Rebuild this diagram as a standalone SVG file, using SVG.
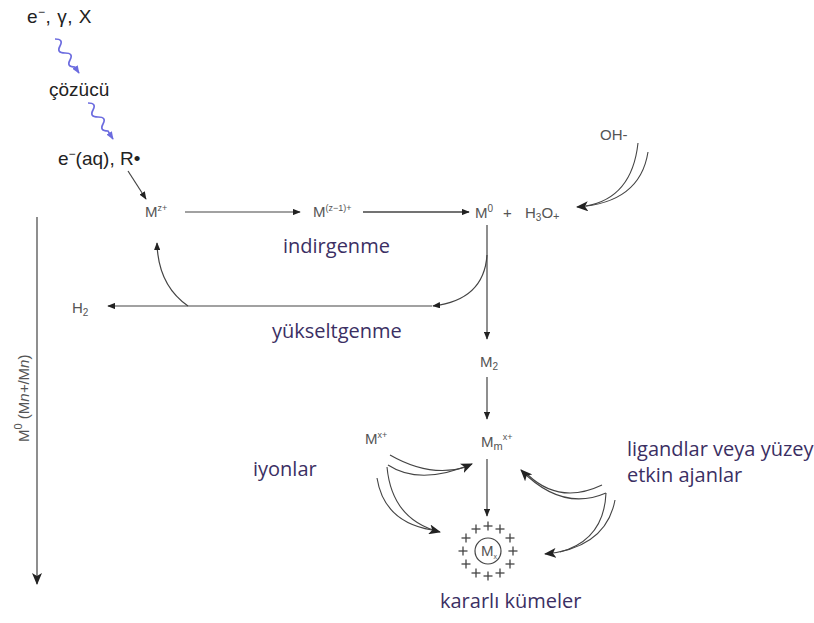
<svg xmlns="http://www.w3.org/2000/svg" width="814" height="623" viewBox="0 0 814 623">
<defs>
<style>
.lbl{font-family:"Liberation Sans",Arial,sans-serif;fill:#555;font-size:15px}
.blk{font-family:"Liberation Sans",Arial,sans-serif;fill:#222;font-size:19px}
.tr{font-family:"Open Sans",sans-serif;fill:#3b2f63;font-size:20px}
.ln{stroke:#444;stroke-width:1.2;fill:none}
.dl{stroke:#444;stroke-width:1.1;fill:none}
.wv{stroke:#6b6bdf;stroke-width:1.6;fill:none}
.pl{stroke:#444;stroke-width:1.3}
</style>
<marker id="ah" viewBox="0 0 10 8" refX="9" refY="4" markerWidth="8" markerHeight="6.4" markerUnits="userSpaceOnUse" orient="auto">
<path d="M0,0 L10,4 L0,8 z" fill="#222"/>
</marker>
<marker id="ab" viewBox="0 0 12 10" refX="11" refY="5" markerWidth="12" markerHeight="10" markerUnits="userSpaceOnUse" orient="auto">
<path d="M0,0 L12,5 L0,10 L3,5 z" fill="#222"/>
</marker>
<marker id="aw" viewBox="0 0 10 8" refX="9" refY="4" markerWidth="8" markerHeight="6.4" markerUnits="userSpaceOnUse" orient="auto">
<path d="M0,0 L10,4 L0,8 z" fill="#6b6bdf"/>
</marker>
<g id="plus"><line class="pl" x1="-4.5" y1="0" x2="4.5" y2="0"/><line class="pl" x1="0" y1="-4.5" x2="0" y2="4.5"/></g>
</defs>
<rect width="814" height="623" fill="#fff"/>

<g id="connectors">
<path class="wv" d="M55,39 q9,0 5,7 t5,7 t5,7 t5,7 L79,73" marker-end="url(#aw)"/>
<path class="wv" d="M88,103 q9,0 5,7 t5,7 t5,7 t5,7 L113,139" marker-end="url(#aw)"/>
<line class="ln" x1="128" y1="171" x2="146" y2="199" marker-end="url(#ah)"/>
<line class="ln" x1="185" y1="212" x2="300" y2="212" marker-end="url(#ah)"/>
<line class="ln" style="stroke-width:1.6" x1="363" y1="212" x2="469" y2="212" marker-end="url(#ah)"/>
<path class="dl" d="M638,143 Q632,198 586,206"/>
<path class="dl" d="M648,152 Q640,203 577,207" marker-end="url(#ab)"/>
<line class="ln" x1="487" y1="225" x2="487" y2="339" marker-end="url(#ah)"/>
<path class="ln" d="M487,255 Q484,300 433,306" marker-end="url(#ah)"/>
<line class="ln" x1="432" y1="306" x2="108" y2="306" marker-end="url(#ah)"/>
<path class="ln" d="M188,306 Q158,285 157,243" marker-end="url(#ah)"/>
<line class="ln" x1="487" y1="377" x2="487" y2="419" marker-end="url(#ah)"/>
<line class="ln" x1="487" y1="459" x2="487" y2="516" marker-end="url(#ah)"/>
<path class="dl" d="M390,455 Q430,478 466,467"/>
<path class="dl" d="M388,465 Q420,486 472,464" marker-end="url(#ab)"/>
<path class="dl" d="M377,478 Q384,522 432,530"/>
<path class="dl" d="M387,467 Q392,520 440,532" marker-end="url(#ab)"/>
<path class="dl" d="M602,485 Q560,505 528,475"/>
<path class="dl" d="M606,493 Q562,512 521,470" marker-end="url(#ab)"/>
<path class="dl" d="M606,493 Q604,540 560,552"/>
<path class="dl" d="M615,500 Q606,548 545,554" marker-end="url(#ab)"/>
<line class="ln" x1="37" y1="217" x2="37" y2="584" marker-end="url(#ab)"/>
</g>

<g id="n-source"><text class="blk" x="27" y="23" letter-spacing="0.5">e<tspan font-size="12" dy="-7">−</tspan><tspan dy="7">, γ, X</tspan></text></g>
<g id="n-solvent"><text class="blk" x="49" y="96" font-size="18">çözücü</text></g>
<g id="n-eaq"><text class="blk" x="58" y="165">e<tspan font-size="12" dy="-7">−</tspan><tspan dy="7">(aq), R•</tspan></text></g>
<g id="n-Mz"><text class="lbl" x="145" y="217">M<tspan font-size="9" dy="-6">z+</tspan></text></g>
<g id="n-Mz1"><text class="lbl" x="313" y="217">M<tspan font-size="9" dy="-6">(z−1)+</tspan></text></g>
<g id="n-M0">
<text class="lbl" x="475" y="218">M<tspan font-size="10" dy="-6">0</tspan></text>
<text class="lbl" x="503" y="218">+</text>
<text class="lbl" x="525" y="218">H<tspan font-size="10" dy="3">3</tspan><tspan dy="-3">O</tspan><tspan font-size="11" dy="2">+</tspan></text>
</g>
<g id="n-OH"><text class="lbl" x="600" y="140">OH-</text></g>
<g id="n-H2"><text class="lbl" x="72" y="313" font-size="16">H<tspan font-size="10" dy="3">2</tspan></text></g>
<g id="n-M2"><text class="lbl" x="480" y="367" font-size="16">M<tspan font-size="10" dy="3">2</tspan></text></g>
<g id="n-Mx"><text class="lbl" x="365" y="444">M<tspan font-size="9" dy="-6">x+</tspan></text></g>
<g id="n-Mm"><text class="lbl" x="481" y="447">M<tspan font-size="11" dy="3">m</tspan><tspan font-size="9" dy="-10">x+</tspan></text></g>
<g id="n-cluster">
<circle cx="488" cy="551" r="13" fill="none" stroke="#444" stroke-width="1.2"/>
<text class="lbl" x="481" y="556" font-size="13" fill="#333">M<tspan font-size="7" dy="3">x</tspan></text>
<use href="#plus" x="488" y="526"/><use href="#plus" x="500" y="529"/><use href="#plus" x="510" y="538"/>
<use href="#plus" x="513" y="551"/><use href="#plus" x="510" y="564"/><use href="#plus" x="500" y="573"/>
<use href="#plus" x="488" y="576"/><use href="#plus" x="476" y="573"/><use href="#plus" x="466" y="564"/>
<use href="#plus" x="463" y="551"/><use href="#plus" x="466" y="538"/><use href="#plus" x="476" y="529"/>
</g>
<g id="n-axis"><text class="lbl" font-size="18" transform="translate(29,442) rotate(-90)">M<tspan font-size="11" dy="-7">0</tspan><tspan dy="7"> (M</tspan><tspan font-style="italic">n+</tspan>/M<tspan font-style="italic">n</tspan>)</text></g>
<g id="l-indirgenme"><text class="tr" x="283" y="253" font-size="19">indirgenme</text></g>
<g id="l-yukseltgenme"><text class="tr" x="272" y="338">yükseltgenme</text></g>
<g id="l-iyonlar"><text class="tr" x="253" y="476" font-size="17">iyonlar</text></g>
<g id="l-ligand"><text class="tr" x="627" y="456" font-size="20.5">ligandlar veya yüzey</text><text class="tr" x="627" y="482" font-size="20.5">etkin ajanlar</text></g>
<g id="l-kararli"><text class="tr" x="440" y="608" font-size="18">kararlı kümeler</text></g>
</svg>
